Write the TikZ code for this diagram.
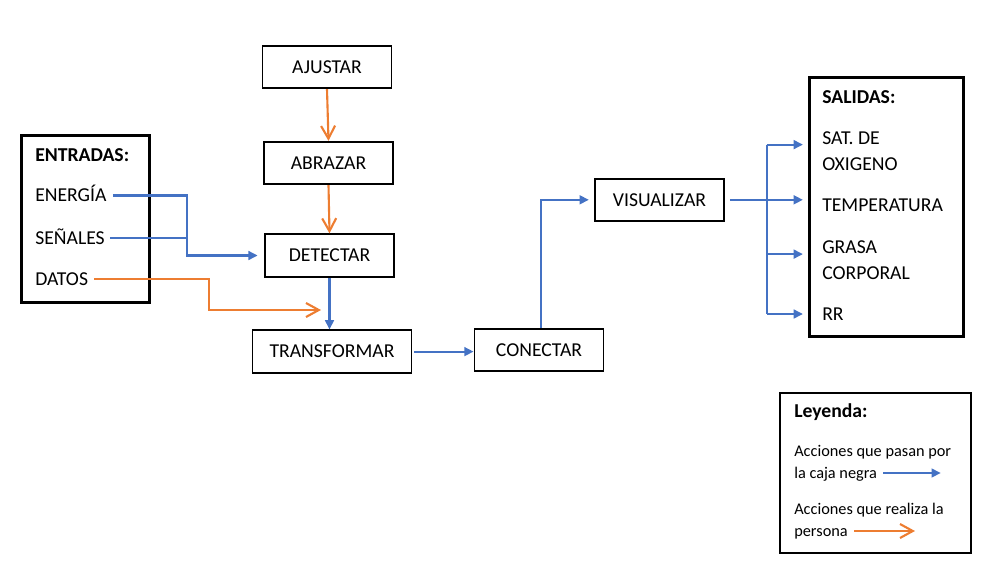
\documentclass[tikz,border=0pt]{standalone}
\usepackage{fontspec}
\setmainfont{Carlito}
\usetikzlibrary{arrows.meta}

\definecolor{azul}{RGB}{68,114,196}
\definecolor{naranja}{RGB}{237,125,49}

\begin{document}
\begin{tikzpicture}[
    x = 0.25mm, y = -0.25mm,
    caja/.style = {draw, line width = 1.4pt, minimum width = 32.25mm,
      minimum height = 10.6mm, inner sep = 0pt,
      font = \fontsize{14}{17}\selectfont, text height = 9pt, text depth = 0pt},
    marco/.style = {draw, line width = 2.3pt, inner sep = 0pt},
    texto/.style = {anchor = west, inner sep = 0pt,
      font = \fontsize{14}{17}\selectfont, text height = 9pt, text depth = 0pt},
    nota/.style = {anchor = west, inner sep = 0pt,
      font = \fontsize{11.6}{14}\selectfont, text height = 7.5pt, text depth = 0pt},
    linea azul/.style = {draw = azul, line width = 1.5pt},
    flecha azul/.style = {linea azul, -{Triangle[length = 2.3mm, width = 2.2mm]}},
    flecha naranja/.style = {draw = naranja, line width = 1.5pt,
      -{Straight Barb[length = 3.2mm, width = 3.5mm]}},
  ]
  \useasboundingbox (0, 0) rectangle (991, 564);

  \node[marco, minimum width = 32mm, minimum height = 41.8mm]
    (entradas) at (85.5, 219) {};
  \node[texto, font = \fontsize{14}{17}\selectfont\bfseries] (tituloE) at (35, 155) {ENTRADAS:};
  \node[texto] (energia) at (35, 195.5) {ENERGÍA};
  \node[texto] (senales) at (35, 238) {SEÑALES};
  \node[texto] (datos) at (35, 279) {DATOS};

  \node[caja] (ajustar) at (327, 67) {AJUSTAR};
  \node[caja] (abrazar) at (328.5, 163) {ABRAZAR};
  \node[caja] (detectar) at (329.5, 255.5) {DETECTAR};
  \node[caja, minimum width = 39.75mm] (transformar) at (332, 351.6) {TRANSFORMAR};
  \node[caja] (conectar) at (539, 349.8) {CONECTAR};
  \node[caja] (visualizar) at (659.5, 199.8) {VISUALIZAR};

  \node[marco, minimum width = 38.5mm, minimum height = 64.75mm]
    (salidas) at (886.3, 206.9) {};
  \node[texto, font = \fontsize{14}{17}\selectfont\bfseries] (tituloS) at (822, 96.7) {SALIDAS:};
  \node[texto] (sat) at (822, 138) {SAT. DE};
  \node[texto] (oxigeno) at (822, 164) {OXIGENO};
  \node[texto] (temperatura) at (822, 205) {TEMPERATURA};
  \node[texto] (grasa) at (822, 247.5) {GRASA};
  \node[texto] (corporal) at (822, 273) {CORPORAL};
  \node[texto] (rr) at (822, 314) {RR};

  \node[draw, line width = 1.4pt, minimum width = 47.6mm, minimum height = 40.1mm]
    (leyenda) at (875.5, 472.9) {};
  \node[texto, font = \fontsize{14}{17}\selectfont\bfseries] (tituloL) at (794, 411.5) {Leyenda:};
  \node[nota] (pasan) at (794, 451) {Acciones que pasan por};
  \node[nota] (caja) at (794, 473) {la caja negra};
  \node[nota] (realiza) at (794, 509) {Acciones que realiza la};
  \node[nota] (persona) at (794, 531) {persona};

  \coordinate (juntaE) at (186.7, 255.5);
  \draw[flecha azul, shorten < = 1.5mm, shorten > = 1.6mm]
    (energia.east) -| (juntaE) -- (detectar.west);
  \draw[linea azul, shorten < = 1.2mm] (senales.east) -- (senales.east -| juntaE);

  \coordinate (llegada) at (321, 310);
  \draw[flecha naranja, shorten < = 1.5mm]
    (datos.east) -| ([xshift = -28mm] llegada) -- (llegada);

  \draw[flecha naranja] (ajustar.south) -- (abrazar.north);
  \draw[flecha naranja] (abrazar.south) -- (detectar.north);
  \draw[flecha azul] (detectar.south) -- (detectar.south |- transformar.north);
  \draw[flecha azul, shorten < = 0.5mm] (transformar.east) -- (transformar.east -| conectar.west);
  \draw[flecha azul, shorten > = 1.3mm]
    ([xshift = 0.5mm] conectar.north) |- (visualizar.west);

  \coordinate (bus) at (766.7, 199.8);
  \draw[flecha azul, shorten < = 1.2mm, shorten > = 1.2mm]
    (visualizar.east) -- (visualizar.east -| salidas.west);
  \draw[linea azul] (bus |- sat.south) -- (bus |- rr);
  \foreach \salida in {sat.south, grasa.south, rr}
    \draw[flecha azul, shorten > = 1.2mm] (bus |- \salida) -- (salidas.west |- \salida);

  \coordinate (finAzul) at (940.7, 473);
  \coordinate (finNaranja) at (915, 531);
  \draw[flecha azul, shorten < = 1.5mm] (caja.east) -- (finAzul);
  \draw[flecha naranja, shorten < = 1.5mm] (persona.east) -- (finNaranja);
\end{tikzpicture}
\end{document}
